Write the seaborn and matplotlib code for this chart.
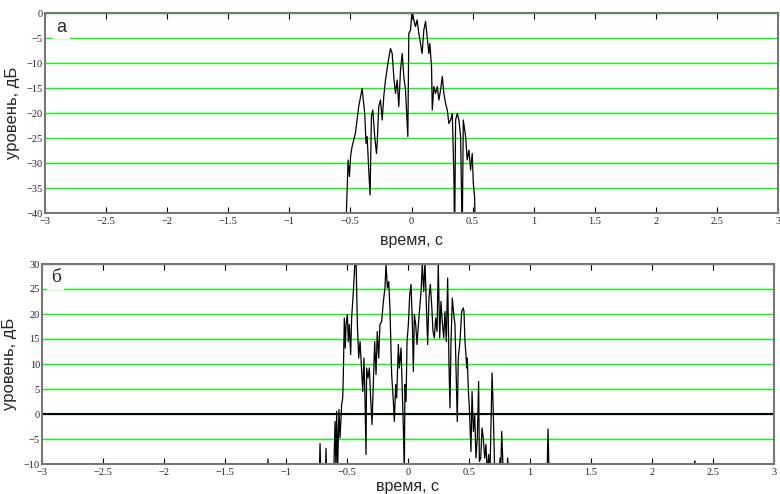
import numpy as np
import pandas as pd
import matplotlib
matplotlib.use("Agg")
import matplotlib.pyplot as plt
import seaborn as sns

# ---------------- data ----------------
top_t = [-0.545, -0.533, -0.519, -0.508, -0.498, -0.486, -0.459, -0.432, -0.404,
         -0.383, -0.372, -0.363, -0.350, -0.339, -0.328, -0.317, -0.301, -0.287,
         -0.281, -0.268, -0.254, -0.240, -0.227, -0.213, -0.191, -0.172, -0.158,
         -0.145, -0.131, -0.117, -0.104, -0.090, -0.076, -0.063, -0.049, -0.041,
         -0.030, -0.022, -0.008, 0.005, 0.019, 0.033, 0.046, 0.060, 0.074, 0.087,
         0.101, 0.115, 0.128, 0.142, 0.150, 0.164, 0.170, 0.183, 0.197, 0.211,
         0.224, 0.238, 0.252, 0.265, 0.279, 0.293, 0.306, 0.320, 0.334, 0.347,
         0.353, 0.361, 0.375, 0.388, 0.402, 0.415, 0.424, 0.443, 0.456, 0.470,
         0.484, 0.497, 0.506, 0.516, 0.525]
top_v = [-45, -40, -29.4, -32.7, -28.5, -26.7, -24.0, -18.7, -15.1,
         -20.1, -26.1, -24.7, -31.4, -36.4, -20.7, -19.4, -24.7, -28.1,
         -26.1, -18.7, -17.4, -21.4, -16.7, -13.4, -9.7, -7.1, -8.1,
         -12.7, -16.1, -13.4, -18.7, -11.4, -8.1, -12.7, -15.4, -19.4,
         -24.7, -4.1, -3.4, 0.5, -1.4, -2.7, -1.4, -4.1, -6.1, -8.1,
         -3.4, -1.7, -4.7, -8.1, -6.1, -10.7, -19.4, -14.7, -16.1, -14.7,
         -17.4, -15.4, -12.7, -16.1, -18.1, -19.4, -22.1, -21.4, -20.1, -32.7,
         -45, -21.4, -20.1, -21.4, -24.7, -45, -21.4, -24.7, -29.4, -27.4,
         -31.4, -28.1, -34.1, -36.7, -45]

bot_t = [-1.156, -1.148, -1.140,
         -0.730, -0.721, -0.712, -0.680, -0.672, -0.664,
         -0.612, -0.598, -0.590, -0.585, -0.576, -0.566, -0.557, -0.544, -0.535,
         -0.530, -0.522, -0.514, -0.508, -0.497, -0.489, -0.481, -0.470, -0.462,
         -0.448, -0.437, -0.426, -0.415, -0.404, -0.393, -0.383, -0.371, -0.361,
         -0.352, -0.344, -0.339, -0.328, -0.317, -0.306, -0.295, -0.284, -0.273,
         -0.262, -0.252, -0.240, -0.230, -0.216, -0.202, -0.189, -0.180, -0.169,
         -0.158, -0.148, -0.134, -0.120, -0.112, -0.101, -0.093, -0.079, -0.071,
         -0.057, -0.047, -0.038, -0.030, -0.025, -0.016, -0.008, 0.003, 0.014,
         0.025, 0.036, 0.044, 0.052, 0.063, 0.074, 0.085, 0.096, 0.107, 0.117,
         0.129, 0.139, 0.150, 0.161, 0.172, 0.183, 0.194, 0.205, 0.216, 0.227,
         0.238, 0.248, 0.260, 0.270, 0.281, 0.293, 0.303, 0.314, 0.325, 0.336,
         0.344, 0.352, 0.363, 0.375, 0.385, 0.396, 0.404, 0.412, 0.426, 0.440,
         0.453, 0.459, 0.467, 0.475, 0.481, 0.486, 0.495, 0.503, 0.508, 0.516,
         0.525, 0.536, 0.547, 0.557, 0.568, 0.579, 0.585, 0.596, 0.607, 0.617,
         0.629, 0.639, 0.650, 0.661, 0.672, 0.689, 0.699, 0.711,
         0.748, 0.754, 0.760, 0.768, 0.781, 0.810, 0.817, 0.825,
         1.140, 1.148, 1.156, 2.345, 2.350, 2.355]
bot_v = [-15, -9.0, -15,
         -15, -5.9, -15, -15, -6.9, -15,
         -15, -1.5, -12, 0.5, -10.5, 0.9, -4.8, 1.9, 3.2,
         7.9, 19.2, 13.2, 17.9, 19.9, 14.5, 17.9, 11.9, 19.2,
         24.5, 29.5, 31.0, 17.9, 11.2, 14.5, 9.9, 4.5, 11.2,
         2.5, -8.1, 9.2, 7.2, 9.2, 3.2, -2.1, 5.9, 14.5,
         7.9, 16.5, 11.2, 17.9, 18.5, 22.5, 25.2, 29.9, 25.2,
         26.5, 21.2, 7.9, 2.5, -1.5, 5.9, 3.2, 13.9, 9.2,
         13.2, 4.5, -2.8, -12, 5.9, 2.5, 14.5, 17.9, 23.9,
         25.9, 17.9, 8.5, 19.9, 17.9, 13.9, 17.9, 21.2, 24.5, 29.9,
         24.5, 30.5, 22.5, 13.9, 23.2, 25.9, 21.9, 16.5, 15.2, 19.2,
         16.5, 29.9, 15.2, 22.5, 18.5, 15.2, 20.5, 14.5, 27.2, 9.9,
         1.2, 13.9, 23.2, 19.9, 17.9, 6.5, -1.5, 11.2, 14.5, 20.5,
         21.2, 20.5, 14.5, 11.9, 9.2, 11.2, 4.5, 1.2, -2.1, -7.5,
         4.5, -3.5, -0.1, -8.8, -4.8, 6.5, -9.5, -8.8, -2.8, -4.8,
         -8.8, -6.1, -12, -8.1, -12, 8.2, 0.5, -12,
         -12, -8.8, -12, -3.5, -12, -12, -8.8, -12,
         -12, -3.0, -12, -12, -9.4, -12]

x_ticks = [-3, -2.5, -2, -1.5, -1, -0.5, 0, 0.5, 1, 1.5, 2, 2.5, 3]
x_tick_labels = ["\u22123", "\u22122.5", "\u22122", "\u22121.5", "\u22121", "\u22120.5",
                 "0", "0.5", "1", "1.5", "2", "2.5", "3"]
top_y_ticks = [-40, -35, -30, -25, -20, -15, -10, -5, 0]
top_y_labels = ["\u221240", "\u221235", "\u221230", "\u221225", "\u221220", "\u221215",
                "\u221210", "\u22125", "0"]
bot_y_ticks = [-10, -5, 0, 5, 10, 15, 20, 25, 30]
bot_y_labels = ["\u221210", "\u22125", "0", "5", "10", "15", "20", "25", "30"]

x_label = "время, с"
y_label = "уровень, дБ"
panel_labels = ["а", "б"]

# ---------------- style ----------------
sns.set_style("white")
plt.rcParams["font.family"] = ["Liberation Sans", "DejaVu Sans"]

fig = plt.figure(figsize=(7.8, 4.94), dpi=100)
ax1 = fig.add_axes([45 / 780, 1 - 213 / 494, 733 / 780, 200 / 494])
ax2 = fig.add_axes([42 / 780, 1 - 464 / 494, 732 / 780, 200 / 494])

top_df = pd.DataFrame({"t": top_t, "v": top_v})
bot_df = pd.DataFrame({"t": bot_t, "v": bot_v})

sns.lineplot(data=top_df, x="t", y="v", ax=ax1, color="black", lw=0.9,
             sort=False, estimator=None, zorder=3)
sns.lineplot(data=bot_df, x="t", y="v", ax=ax2, color="black", lw=0.9,
             sort=False, estimator=None, zorder=3)

tick_font = {"family": "Liberation Serif", "size": 7.5}

for ax, yt, yl, ylim, xpad in [(ax1, top_y_ticks, top_y_labels, (-40, 0), 5),
                               (ax2, bot_y_ticks, bot_y_labels, (-10, 30), 1)]:
    ax.set_xlim(-3, 3)
    ax.set_ylim(*ylim)
    ax.set_xticks(x_ticks)
    ax.set_xticklabels(x_tick_labels, fontdict=tick_font)
    ax.set_yticks(yt)
    ax.set_yticklabels(yl, fontdict=tick_font)
    ax.tick_params(axis="x", direction="in", length=4.3, width=0.8,
                   top=True, bottom=True, color="black", pad=3)
    ax.tick_params(axis="y", length=0, pad=1.5)
    ax.grid(axis="y", color="#00ff00", lw=1.0)
    ax.grid(axis="x", visible=False)
    ax.set_axisbelow(True)
    for s in ax.spines.values():
        s.set_visible(True)
        s.set_color("#777777")
        s.set_linewidth(1.5)
        s.set_zorder(4)
    ax.set_xlabel(x_label, fontsize=11.5, labelpad=xpad)
    ax.set_ylabel(y_label, fontsize=12, labelpad=5)

ax2.axhline(0, color="black", lw=1.5, zorder=2)

ax1.text(0.0225, 0.93, panel_labels[0], transform=ax1.transAxes, fontsize=13,
         ha="center", va="center",
         bbox=dict(facecolor="white", edgecolor="none", pad=2.5), zorder=5)
ax2.text(0.019, 0.93, panel_labels[1], transform=ax2.transAxes, fontsize=14,
         family="Liberation Serif", ha="center", va="center",
         bbox=dict(facecolor="white", edgecolor="none", pad=2.5), zorder=5)

fig.savefig("out.png", dpi=100)
